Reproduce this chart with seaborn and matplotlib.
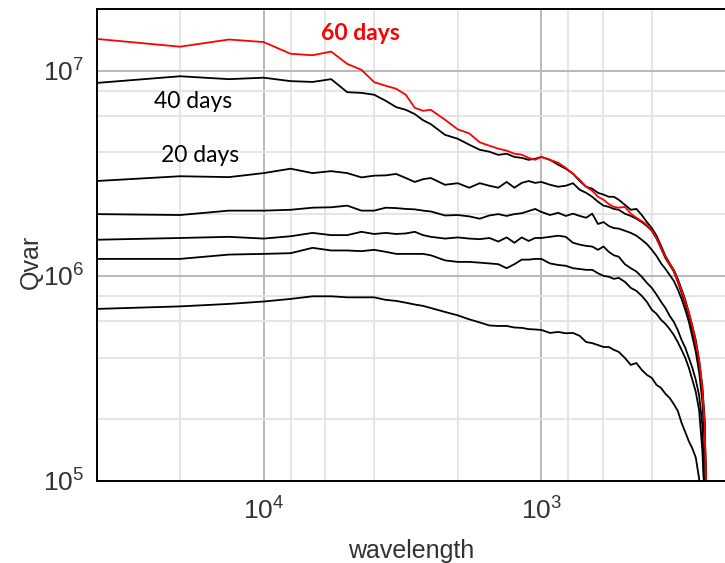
import numpy as np
import pandas as pd
import matplotlib
matplotlib.use("Agg")
import matplotlib.pyplot as plt
import matplotlib.ticker as mticker
import seaborn as sns

# ---- data ----
domain_length = 40000.0
modes = [1, 2, 3, 4, 5, 6, 7, 8, 9, 10, 11, 12, 13, 14, 15, 16,
         18, 20, 22, 24, 26, 28, 30, 32, 34, 36, 38, 40,
         43, 46, 49, 52, 55, 58, 61, 64, 67, 70, 73, 76,
         80, 84, 88, 92, 96, 100, 104, 108, 112, 116, 120, 124, 128, 132,
         136, 140, 144, 148, 152, 155, 158]

q_60d = [1.43e7, 1.31e7, 1.42e7, 1.38e7, 1.21e7, 1.19e7, 1.24e7, 1.08e7, 1.01e7, 8.8e6,
         8.45e6, 8.17e6, 7.64e6, 6.6e6, 6.38e6, 6.45e6,
         5.77e6, 5.18e6, 4.95e6, 4.48e6, 4.31e6, 4.17e6, 4.08e6, 3.94e6, 3.9e6, 3.76e6, 3.68e6, 3.8e6,
         3.68e6, 3.56e6, 3.36e6, 3.15e6, 2.94e6, 2.72e6, 2.6e6, 2.43e6, 2.35e6, 2.24e6, 2.17e6, 2.15e6,
         2.17e6, 2.01e6, 1.92e6, 1.85e6, 1.77e6, 1.66e6, 1.53e6, 1.37e6, 1.24e6, 1.14e6, 1.06e6,
         9.45e5, 8.45e5, 7.47e5, 6.6e5, 5.64e5, 4.71e5, 3.89e5, 2.84e5, 1.88e5, 6e4]

q_40d = [8.72e6, 9.4e6, 9.1e6, 9.25e6, 8.9e6, 8.82e6, 9.1e6, 7.86e6, 7.8e6, 7.64e6,
         7.14e6, 6.65e6, 6.45e6, 6.15e6, 5.74e6, 5.49e6,
         4.87e6, 4.66e6, 4.36e6, 4.12e6, 4.03e6, 3.89e6, 3.94e6, 3.8e6, 3.76e6, 3.68e6, 3.72e6, 3.8e6,
         3.68e6, 3.48e6, 3.33e6, 3.15e6, 2.9e6, 2.72e6, 2.66e6, 2.54e6, 2.49e6, 2.43e6, 2.43e6, 2.35e6,
         2.22e6, 2.1e6, 2.12e6, 1.98e6, 1.83e6, 1.71e6, 1.57e6, 1.4e6, 1.25e6, 1.15e6, 1.07e6,
         9.67e5, 8.6e5, 7.64e5, 6.6e5, 5.7e5, 4.87e5, 3.89e5, 2.91e5, 2.0e5, 6e4]

q_20d = [2.9e6, 3.06e6, 3.03e6, 3.17e6, 3.33e6, 3.17e6, 3.24e6, 3.17e6, 3.02e6, 3.08e6,
         3.09e6, 3.14e6, 3.0e6, 2.87e6, 2.96e6, 3.0e6,
         2.78e6, 2.83e6, 2.69e6, 2.83e6, 2.75e6, 2.69e6, 2.87e6, 2.69e6, 2.84e6, 2.9e6, 2.84e6, 2.87e6,
         2.78e6, 2.72e6, 2.75e6, 2.83e6, 2.63e6, 2.54e6, 2.43e6, 2.3e6, 2.2e6, 2.17e6, 2.12e6, 2.1e6,
         2.01e6, 1.96e6, 1.9e6, 1.83e6, 1.75e6, 1.66e6, 1.52e6, 1.36e6, 1.22e6, 1.13e6, 1.05e6,
         9.35e5, 8.26e5, 7.3e5, 6.38e5, 5.45e5, 4.5e5, 3.68e5, 2.69e5, 1.77e5, 6e4]

q_run4 = [2.0e6, 1.98e6, 2.08e6, 2.08e6, 2.1e6, 2.15e6, 2.16e6, 2.2e6, 2.08e6, 2.08e6,
          2.15e6, 2.14e6, 2.12e6, 2.11e6, 2.08e6, 2.06e6,
          1.97e6, 1.98e6, 1.95e6, 1.9e6, 1.97e6, 2.0e6, 1.96e6, 2.0e6, 2.02e6, 2.07e6, 2.12e6, 2.05e6,
          1.98e6, 2.03e6, 1.96e6, 2.01e6, 1.96e6, 1.92e6, 2.01e6, 1.79e6, 1.83e6, 1.75e6, 1.71e6, 1.7e6,
          1.66e6, 1.62e6, 1.57e6, 1.5e6, 1.43e6, 1.34e6, 1.25e6, 1.15e6, 1.08e6, 1.01e6, 9.45e5,
          8.6e5, 7.72e5, 6.83e5, 5.97e5, 5.04e5, 4.26e5, 3.4e5, 2.48e5, 1.58e5, 6e4]

q_run5 = [1.5e6, 1.53e6, 1.55e6, 1.52e6, 1.56e6, 1.62e6, 1.58e6, 1.58e6, 1.64e6, 1.6e6,
          1.62e6, 1.6e6, 1.61e6, 1.64e6, 1.58e6, 1.55e6,
          1.52e6, 1.54e6, 1.52e6, 1.51e6, 1.53e6, 1.47e6, 1.54e6, 1.45e6, 1.54e6, 1.48e6, 1.53e6, 1.53e6,
          1.55e6, 1.57e6, 1.55e6, 1.45e6, 1.42e6, 1.4e6, 1.39e6, 1.34e6, 1.39e6, 1.31e6, 1.26e6, 1.24e6,
          1.14e6, 1.09e6, 1.05e6, 9.9e5, 9.24e5, 8.74e5, 8.1e5, 7.47e5, 6.97e5, 6.38e5, 5.97e5,
          5.45e5, 4.87e5, 4.46e5, 3.98e5, 3.56e5, 3.11e5, 2.63e5, 1.88e5, 8e4, 5e4]

q_run6 = [1.21e6, 1.21e6, 1.27e6, 1.28e6, 1.29e6, 1.37e6, 1.33e6, 1.33e6, 1.32e6, 1.34e6,
          1.31e6, 1.28e6, 1.28e6, 1.28e6, 1.28e6, 1.26e6,
          1.19e6, 1.17e6, 1.17e6, 1.16e6, 1.15e6, 1.14e6, 1.09e6, 1.14e6, 1.2e6, 1.2e6, 1.21e6, 1.21e6,
          1.15e6, 1.13e6, 1.12e6, 1.09e6, 1.08e6, 1.07e6, 1.07e6, 1.03e6, 1.0e6, 9.9e5, 9.67e5, 9.78e5,
          9.35e5, 8.74e5, 8.45e5, 7.99e5, 7.47e5, 6.83e5, 6.53e5, 6.1e5, 5.83e5, 5.5e5, 5.15e5,
          4.76e5, 4.36e5, 3.98e5, 3.56e5, 3.11e5, 2.72e5, 2.22e5, 1.42e5, 8e4, 5e4]

q_run7 = [6.9e5, 7.1e5, 7.3e5, 7.5e5, 7.72e5, 7.95e5, 7.95e5, 7.86e5, 7.86e5, 7.86e5,
          7.64e5, 7.55e5, 7.4e5, 7.25e5, 7.14e5, 6.97e5,
          6.67e5, 6.42e5, 6.14e5, 5.93e5, 5.73e5, 5.7e5, 5.7e5, 5.6e5, 5.58e5, 5.5e5, 5.48e5, 5.45e5,
          5.27e5, 5.33e5, 5.25e5, 5.27e5, 5.1e5, 4.76e5, 4.7e5, 4.6e5, 4.5e5, 4.5e5, 4.36e5, 4.26e5,
          3.98e5, 3.68e5, 3.76e5, 3.48e5, 3.29e5, 3.18e5, 2.94e5, 2.84e5, 2.66e5, 2.54e5, 2.37e5,
          2.2e5, 1.92e5, 1.73e5, 1.56e5, 1.44e5, 1.3e5, 1.03e5, 6e4, 4e4, 3e4]

series_names = ["run7", "run6", "run5", "run4", "20 days", "40 days", "60 days"]
series_values = [q_run7, q_run6, q_run5, q_run4, q_20d, q_40d, q_60d]
series_colors = ["black", "black", "black", "black", "black", "black", "#ff0000"]

x_ticks = [1e4, 1e3]
y_ticks = [1e5, 1e6, 1e7]

# ---- build table ----
wavelength = [domain_length / m for m in modes]
rows = []
for name, vals in zip(series_names, series_values):
    for w, v in zip(wavelength, vals):
        rows.append({"series": name, "wavelength": w, "Qvar": v})
df = pd.DataFrame(rows)

# ---- style ----
sns.set_theme(style="white")
plt.rcParams["font.family"] = ["Liberation Sans", "DejaVu Sans"]
plt.rcParams["mathtext.fontset"] = "custom"
plt.rcParams["mathtext.rm"] = "Liberation Sans"
plt.rcParams["mathtext.it"] = "Liberation Sans:italic"
plt.rcParams["mathtext.bf"] = "Liberation Sans:bold"

fig = plt.figure(figsize=(7.25, 5.63), dpi=100)
ax = fig.add_axes([96.5 / 725, 82 / 563, 1 - 96.5 / 725, 472 / 563])

sns.lineplot(data=df, x="wavelength", y="Qvar", hue="series",
             hue_order=series_names, palette=dict(zip(series_names, series_colors)),
             estimator=None, sort=False, legend=False, linewidth=1.3, ax=ax)

ax.set_xscale("log")
ax.set_yscale("log")
ax.set_xlim(4.0e4, 218)
ax.set_ylim(1e5, 2.0e7)

ax.xaxis.set_major_locator(mticker.FixedLocator(x_ticks))
ax.yaxis.set_major_locator(mticker.FixedLocator(y_ticks))
ax.xaxis.set_major_formatter(mticker.LogFormatterSciNotation())
ax.yaxis.set_major_formatter(mticker.LogFormatterSciNotation())
ax.xaxis.set_minor_locator(mticker.LogLocator(base=10, subs=(2, 4, 6, 8)))
ax.yaxis.set_minor_locator(mticker.LogLocator(base=10, subs=(2, 4, 6, 8)))
ax.xaxis.set_minor_formatter(mticker.NullFormatter())
ax.yaxis.set_minor_formatter(mticker.NullFormatter())

ax.set_axisbelow(True)
ax.grid(which="minor", color="#e3e3e3", linewidth=1.3)
ax.grid(which="major", color="#b9b9b9", linewidth=1.4)
ax.tick_params(which="both", length=0, labelsize=19, colors="#333333")
ax.tick_params(axis="x", pad=12)
ax.tick_params(axis="y", pad=9)

for s in ["left", "top", "bottom"]:
    ax.spines[s].set_color("black")
    ax.spines[s].set_linewidth(1.4)
ax.spines["right"].set_visible(False)

ax.set_xlabel("wavelength", fontsize=18, color="#333333")
ax.set_ylabel("Qvar", fontsize=18, color="#333333")
ax.xaxis.set_label_coords(0.5, (481 - 551) / 472)
ax.xaxis.label.set_va("center")
ax.yaxis.set_label_coords((31 - 96.5) / 628.5, (481 - 262) / 472)
ax.yaxis.label.set_va("center")

fig.text(360 / 725, 1 - 34 / 563, "60 days", color="#ff0000", fontsize=16.5,
         fontweight="bold", family="Lato", ha="center", va="center")
fig.text(193 / 725, 1 - 102 / 563, "40 days", color="black", fontsize=16.5,
         family="Lato", ha="center", va="center")
fig.text(200 / 725, 1 - 155 / 563, "20 days", color="black", fontsize=16.5,
         family="Lato", ha="center", va="center")

fig.savefig("out.png", dpi=100)
